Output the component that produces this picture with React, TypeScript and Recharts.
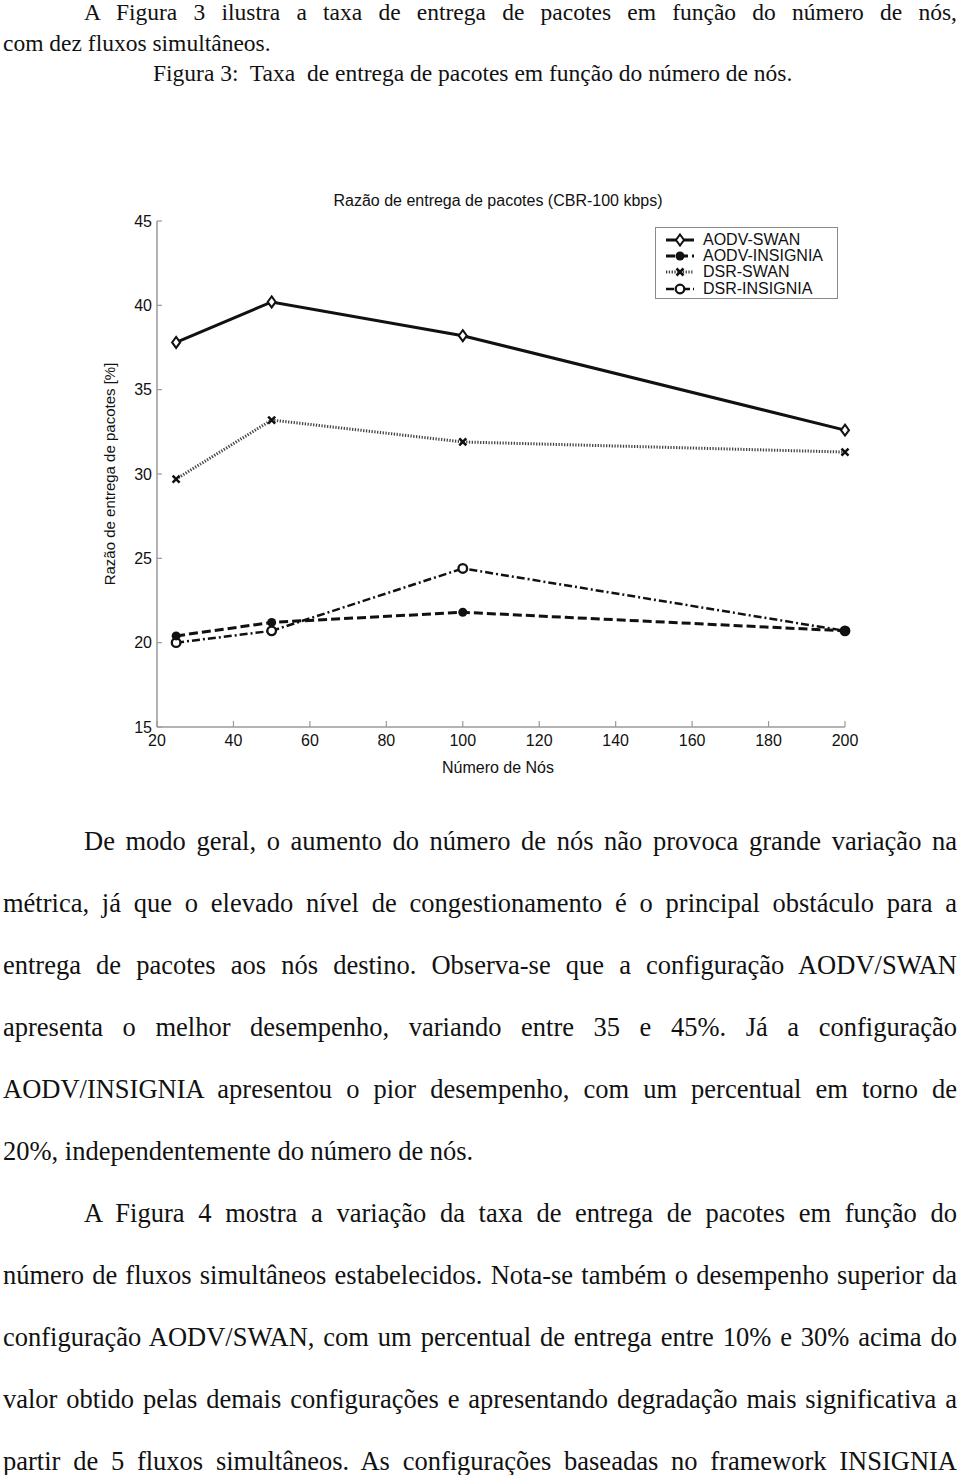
import { Line, LineChart, XAxis, YAxis } from 'recharts'

// Figure 3 of the report: packet delivery ratio vs number of nodes (CBR-100 kbps)

const nodeCounts = [25, 50, 100, 200]
const aodvSwan = [37.8, 40.2, 38.2, 32.6]
const aodvInsignia = [20.4, 21.2, 21.8, 20.7]
const dsrSwan = [29.7, 33.2, 31.9, 31.3]
const dsrInsignia = [20.0, 20.7, 24.4, 20.7]

const xTicks = [20, 40, 60, 80, 100, 120, 140, 160, 180, 200]
const yTicks = [15, 20, 25, 30, 35, 40, 45]

const chartTitle = 'Razão de entrega de pacotes (CBR-100 kbps)'
const xLabel = 'Número de Nós'
const yLabel = 'Razão de entrega de pacotes [%]'

const topLines = [
  'A Figura 3 ilustra a taxa de entrega de pacotes em função do número de nós,',
  'com dez fluxos simultâneos.',
  'Figura 3:  Taxa  de entrega de pacotes em função do número de nós.',
]

// [text, indented, justified]
const bodyLines: [string, boolean, boolean][] = [
  ['De modo geral, o aumento do número de nós não provoca grande variação na', true, true],
  ['métrica, já que o elevado nível de congestionamento é o principal obstáculo para a', false, true],
  ['entrega de pacotes aos nós destino. Observa-se que a configuração AODV/SWAN', false, true],
  ['apresenta o melhor desempenho, variando entre 35 e 45%. Já a configuração', false, true],
  ['AODV/INSIGNIA apresentou o pior desempenho, com um percentual em torno de', false, true],
  ['20%, independentemente do número de nós.', false, false],
  ['A Figura 4 mostra a variação da taxa de entrega de pacotes em função do', true, true],
  ['número de fluxos simultâneos estabelecidos. Nota-se também o desempenho superior da', false, true],
  ['configuração AODV/SWAN, com um percentual de entrega entre 10% e 30% acima do', false, true],
  ['valor obtido pelas demais configurações e apresentando degradação mais significativa a', false, true],
  ['partir de 5 fluxos simultâneos. As configurações baseadas no framework INSIGNIA', false, true],
]

type Marker = 'diamond' | 'dot' | 'cross' | 'ring'

const series: { key: string; name: string; values: number[]; dash?: string; width: number; marker: Marker; stroke: string }[] = [
  { key: 'aodvSwan', name: 'AODV-SWAN', values: aodvSwan, width: 3, marker: 'diamond', stroke: '#111' },
  { key: 'aodvInsignia', name: 'AODV-INSIGNIA', values: aodvInsignia, dash: '9 4', width: 3, marker: 'dot', stroke: '#111' },
  { key: 'dsrSwan', name: 'DSR-SWAN', values: dsrSwan, dash: '1.3 1.5', width: 3, marker: 'cross', stroke: '#444' },
  { key: 'dsrInsignia', name: 'DSR-INSIGNIA', values: dsrInsignia, dash: '8 3 2 3', width: 2.5, marker: 'ring', stroke: '#111' },
]

// draw order: the INSIGNIA dots overlap at 200 nodes, the filled one sits on top
const drawOrder = ['aodvSwan', 'dsrSwan', 'dsrInsignia', 'aodvInsignia']

const rows = nodeCounts.map((n, i) => {
  const row: Record<string, number> = { nodes: n }
  series.forEach((s) => (row[s.key] = s.values[i]))
  return row
})

const ink = '#111'
const axisGray = '#9a9a9a'
const sans = "'Liberation Sans', Arial, sans-serif"
const serif = "'Liberation Serif', 'Times New Roman', serif"

function markerShape(kind: Marker, cx: number, cy: number, key?: string | number) {
  switch (kind) {
    case 'diamond':
      return (
        <polygon
          key={key}
          points={`${cx},${cy - 5.5} ${cx + 4},${cy} ${cx},${cy + 5.5} ${cx - 4},${cy}`}
          fill="#fff"
          stroke={ink}
          strokeWidth={2}
        />
      )
    case 'dot':
      return <circle key={key} cx={cx} cy={cy} r={4.5} fill={ink} />
    case 'cross':
      return (
        <path
          key={key}
          d={`M${cx - 3.5},${cy - 3.5}L${cx + 3.5},${cy + 3.5}M${cx + 3.5},${cy - 3.5}L${cx - 3.5},${cy + 3.5}`}
          stroke={ink}
          strokeWidth={2.5}
        />
      )
    default:
      return <circle key={key} cx={cx} cy={cy} r={4.3} fill="#fff" stroke={ink} strokeWidth={2.3} />
  }
}

function TextLine({ text, baseline, left, width, size, justify }: { text: string; baseline: number; left: number; width?: number; size: number; justify?: boolean }) {
  return (
    <div
      style={{
        position: 'absolute',
        left,
        top: baseline - 0.8375 * size,
        width,
        fontFamily: serif,
        fontSize: size,
        lineHeight: `${size}px`,
        color: ink,
        whiteSpace: 'pre',
        textAlign: justify ? 'justify' : 'left',
        textAlignLast: justify ? 'justify' : 'left',
      }}
    >
      {justify ? text.replace(/ +/g, ' ') : text}
    </div>
  )
}

function LegendBox() {
  return (
    <div
      style={{
        position: 'absolute',
        left: 655,
        top: 227,
        width: 183,
        height: 72,
        border: '1px solid #8a8a8a',
        background: '#fff',
        paddingTop: 4,
        boxSizing: 'border-box',
      }}
    >
      {series.map((s) => (
        <div key={s.key} style={{ display: 'flex', alignItems: 'center', height: 16.2 }}>
          <svg width={45} height={16} style={{ flex: 'none' }}>
            <line x1={10} x2={38} y1={8} y2={8} stroke={s.stroke} strokeWidth={s.width} strokeDasharray={s.dash} />
            {markerShape(s.marker, 24, 8)}
          </svg>
          <span style={{ marginLeft: 2, fontFamily: sans, fontSize: 16, color: ink, lineHeight: '16px' }}>{s.name}</span>
        </div>
      ))}
    </div>
  )
}

export default function App() {
  return (
    <div style={{ position: 'absolute', left: 0, top: 0, width: 960, height: 1475, background: '#fff', overflow: 'hidden' }}>
      <TextLine text={topLines[0]} baseline={21} left={84} width={873} size={23.5} justify />
      <TextLine text={topLines[1]} baseline={52} left={3} size={23.5} />
      <TextLine text={topLines[2]} baseline={82} left={153} size={23.5} />

      <div
        style={{
          position: 'absolute',
          left: 298,
          top: 192,
          width: 400,
          textAlign: 'center',
          fontFamily: sans,
          fontSize: 16,
          lineHeight: '18px',
          color: ink,
        }}
      >
        {chartTitle}
      </div>

      <div style={{ position: 'absolute', left: 0, top: 180 }}>
        <LineChart width={900} height={620} data={rows} margin={{ top: 41, right: 55, left: 97, bottom: 12 }}>
          <XAxis
            dataKey="nodes"
            type="number"
            domain={[20, 200]}
            ticks={xTicks}
            height={61}
            tickSize={-6}
            tickMargin={14}
            axisLine={{ stroke: axisGray, strokeWidth: 1.5 }}
            tickLine={{ stroke: axisGray, strokeWidth: 1.2 }}
            tick={{ fill: ink, fontSize: 16, fontFamily: sans }}
            label={{ value: xLabel, position: 'center', dx: -3, dy: 10, style: { fill: ink, fontSize: 16, fontFamily: sans } }}
          />
          <YAxis
            type="number"
            domain={[15, 45]}
            ticks={yTicks}
            width={60}
            tickSize={-5}
            tickMargin={10}
            axisLine={{ stroke: axisGray, strokeWidth: 1.5 }}
            tickLine={{ stroke: axisGray, strokeWidth: 1.2 }}
            tick={{ fill: ink, fontSize: 16, fontFamily: sans }}
            label={{ value: yLabel, angle: -90, position: 'center', dx: -17, style: { fill: ink, fontSize: 15, fontFamily: sans, textAnchor: 'middle' } }}
          />
          {drawOrder.map((k) => {
            const s = series.find((x) => x.key === k)!
            return (
              <Line
                key={s.key}
                dataKey={s.key}
                name={s.name}
                type="linear"
                stroke={s.stroke}
                strokeWidth={s.width}
                strokeDasharray={s.dash}
                isAnimationActive={false}
                dot={(p: any) => markerShape(s.marker, p.cx, p.cy, `${s.key}-${p.index}`)}
                activeDot={false}
              />
            )
          })}
        </LineChart>
      </div>

      <LegendBox />

      {bodyLines.map(([text, indent, justify], i) => (
        <TextLine
          key={i}
          text={text}
          baseline={850 + i * 62}
          left={indent ? 84 : 3}
          width={indent ? 873 : 954}
          size={26.5}
          justify={justify}
        />
      ))}
    </div>
  )
}
